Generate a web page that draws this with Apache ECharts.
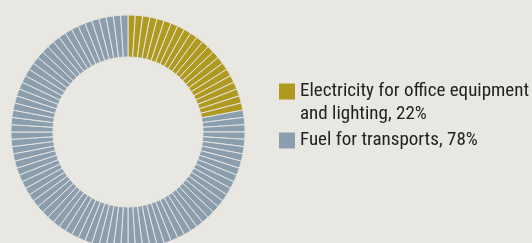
<!doctype html>
<html lang="en">
<head>
    <meta charset="UTF-8">
    <title>Energy use</title>
    <script src="https://cdn.jsdelivr.net/npm/echarts@6/dist/echarts.min.js"></script>
    <style>
        html, body { margin: 0; padding: 0; background: #e8e7e2; }
        #main { width: 532px; height: 243px; }
    </style>
</head>
<body>
<div id="main"></div>
<script type="text/javascript">
    // shares in percent, one ring segment per percent
    var categories = ['Electricity', 'Fuel'];
    var legendLabels = ['Electricity for office equipment\nand lighting, 22%', 'Fuel for transports, 78%'];
    var values = [22, 78];
    var colors = ['#b0991f', '#8a9eae'];

    var slices = [];
    for (var i = 0; i < categories.length; i++) {
        for (var k = 0; k < values[i]; k++) {
            slices.push({ value: 1, name: categories[i], itemStyle: { color: colors[i] } });
        }
    }

    var myChart = echarts.init(document.getElementById('main'));
    var option = {
        backgroundColor: '#e8e7e2',
        animation: false,
        legend: {
            orient: 'vertical',
            left: 279,
            top: 57,
            padding: 0,
            itemWidth: 16,
            itemHeight: 16,
            itemGap: 3,
            icon: 'rect',
            selectedMode: false,
            itemStyle: { borderWidth: 0 },
            data: [
                { name: categories[0], itemStyle: { color: colors[0], borderWidth: 0 } },
                { name: categories[1], itemStyle: { color: colors[1], borderWidth: 0 } }
            ],
            formatter: function (name) {
                var label = legendLabels[categories.indexOf(name)];
                // leading empty line keeps the square level with the first text line
                return label.indexOf('\n') >= 0 ? '\n' + label : label;
            },
            textStyle: {
                fontFamily: '"Roboto Condensed", Roboto, sans-serif',
                fontSize: 19,
                lineHeight: 23,
                color: '#222222'
            }
        },
        series: [
            {
                type: 'pie',
                center: [128, 132],
                radius: [75, 117],
                startAngle: 90,
                clockwise: true,
                silent: true,
                label: { show: false },
                labelLine: { show: false },
                itemStyle: { borderColor: '#e4e4e0', borderWidth: 1 },
                data: slices
            }
        ]
    };
    myChart.setOption(option);
</script>
</body>
</html>
